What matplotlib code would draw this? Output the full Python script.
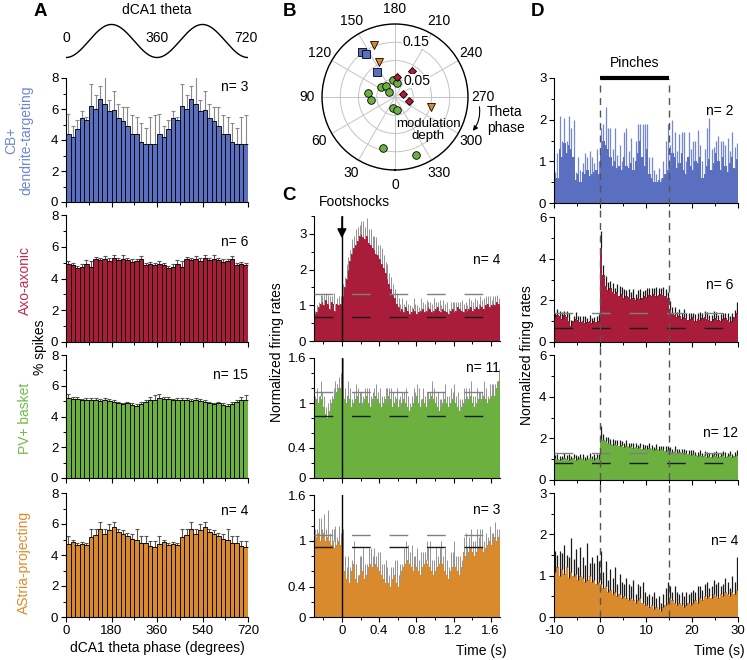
import numpy as np
import matplotlib
matplotlib.use("Agg")
import matplotlib.pyplot as plt
from matplotlib.lines import Line2D
from matplotlib.transforms import blended_transform_factory
from matplotlib.ticker import MultipleLocator

plt.rcParams['font.family'] = ['Liberation Sans', 'DejaVu Sans']
plt.rcParams['font.size'] = 9.5
plt.rcParams['axes.unicode_minus'] = False

# ============================================================
# Data
# ============================================================

# A: % spikes per 18 degree theta bin (one cycle, drawn twice)
a_blue_mean = [4.4, 4.2, 4.7, 5.4, 5.3, 6.2, 6.0, 6.65, 6.35, 5.9, 5.95, 5.45, 5.2, 4.9, 4.4, 4.4, 3.85, 3.75, 3.75, 3.75]
a_blue_err = [1.3, 0.7, 0.6, 0.5, 0.2, 1.4, 0.9, 0.85, 1.85, 0.7, 1.2, 0.9, 0.9, 1.2, 1.2, 1.1, 1.25, 1.0, 1.75, 1.85]
a_red_mean = [4.9, 4.85, 4.65, 4.75, 4.9, 4.7, 5.2, 5.15, 5.25, 5.1, 5.3, 5.15, 5.25, 5.15, 5.05, 5.1, 5.2, 4.85, 4.9, 4.85]
a_red_err = [0.2, 0.15, 0.15, 0.15, 0.25, 0.4, 0.15, 0.15, 0.15, 0.2, 0.2, 0.15, 0.2, 0.15, 0.15, 0.15, 0.2, 0.15, 0.15, 0.15]
a_green_mean = [5.2, 5.15, 5.15, 5.05, 5.1, 5.05, 5.1, 5.0, 5.1, 5.0, 4.95, 4.85, 4.8, 4.85, 4.75, 4.7, 4.8, 4.95, 5.1, 5.1]
a_green_err = [0.25, 0.15, 0.15, 0.12, 0.1, 0.15, 0.1, 0.15, 0.1, 0.15, 0.15, 0.1, 0.1, 0.1, 0.12, 0.1, 0.15, 0.15, 0.2, 0.3]
a_orange_mean = [4.7, 4.85, 4.65, 4.7, 4.65, 5.15, 5.3, 5.7, 5.35, 5.6, 5.8, 5.5, 5.35, 5.2, 5.05, 4.95, 4.8, 4.75, 4.55, 4.5]
a_orange_err = [0.55, 0.15, 0.1, 0.15, 0.15, 0.5, 0.4, 0.4, 0.3, 0.4, 0.3, 0.2, 0.25, 0.2, 0.3, 0.7, 0.45, 0.5, 0.35, 0.4]
a_n = ["n= 3", "n= 6", "n= 15", "n= 4"]

# B: theta phase (deg) and modulation depth per cell
b_blue_phase = [144, 145.5, 144.4]
b_blue_depth = [0.153, 0.142, 0.083]
b_orange_phase = [158, 155.2, 285.2]
b_orange_depth = [0.154, 0.105, 0.101]
b_red_phase = [212.4, 186.7, 252, 284.8]
b_red_depth = [0.085, 0.054, 0.024, 0.040]
b_green_phase = [97.6, 82.9, 124.7, 140.7, 133, 172.3, 186.8, 11.5, 352.5, 13, 340.1]
b_green_depth = [0.076, 0.066, 0.047, 0.039, 0.021, 0.047, 0.039, 0.032, 0.036, 0.142, 0.169]

# C: footshock PSTHs, 20 ms bins from -0.3 s
c_red_mean = [0.75, 0.8, 0.95, 1.05, 1.1, 1.0, 1.15, 1.05, 0.9, 1.1, 1.05, 0.85, 1.05, 1.0, 1.05,
              1.25, 1.5, 1.75, 2.0, 2.25, 2.45, 2.6, 2.7, 2.8, 2.95, 3.0, 2.9, 2.85, 2.95, 2.75,
              2.7, 2.6, 2.55, 2.45, 2.4, 2.3, 2.15, 2.05, 1.9, 1.75, 1.6, 1.45, 1.3, 1.2, 1.05,
              0.95, 0.85, 0.9, 0.8, 0.95,
              0.85, 0.75, 0.8, 0.9, 0.85, 0.75, 0.8, 0.85, 0.9, 0.8, 0.85, 0.95, 0.9, 0.8, 0.85,
              0.9, 0.95, 0.85, 0.8, 0.9, 0.85, 0.8, 0.75, 0.85, 0.9, 0.8, 0.85, 0.95, 0.9, 0.85,
              0.8, 0.9, 0.85, 0.9, 0.95, 0.85, 0.9, 0.95, 0.9, 1.0, 0.95, 0.9, 1.0, 1.05, 0.95,
              1.0, 1.05, 1.0, 1.1, 1.05]
c_red_err = [0.1, 0.2, 0.15, 0.25, 0.2, 0.3, 0.2, 0.25, 0.35, 0.15, 0.3, 0.2, 0.15, 0.25, 0.2,
             0.35, 0.3, 0.4, 0.35, 0.3, 0.4, 0.35, 0.45, 0.4, 0.3, 0.35, 0.45, 0.35, 0.5, 0.4,
             0.45, 0.35, 0.4, 0.45, 0.3, 0.4, 0.45, 0.35, 0.3, 0.4, 0.3, 0.35, 0.3, 0.25, 0.3,
             0.25, 0.2, 0.3, 0.25, 0.2,
             0.2, 0.25, 0.15, 0.3, 0.2, 0.25, 0.15, 0.35, 0.2, 0.25, 0.3, 0.15, 0.2, 0.25, 0.35,
             0.2, 0.15, 0.3, 0.2, 0.25, 0.2, 0.3, 0.15, 0.25, 0.2, 0.3, 0.25, 0.15, 0.2, 0.3,
             0.25, 0.2, 0.15, 0.3, 0.2, 0.25, 0.3, 0.2, 0.15, 0.25, 0.2, 0.3, 0.25, 0.2, 0.3,
             0.15, 0.2, 0.25, 0.2, 0.15]
c_green_mean = [1.0, 1.05, 1.0, 1.1, 1.05, 0.95, 0.85, 0.8, 0.9, 1.0, 1.05, 1.1, 1.15, 1.2, 1.2,
                1.15, 1.05, 1.0, 1.1, 1.05, 0.95, 1.0, 1.05, 1.1, 1.0, 0.95, 1.0, 1.05, 1.1, 1.0,
                0.95, 1.05, 1.0, 1.1, 1.05, 1.0, 0.95, 1.0, 1.05, 1.0, 1.1, 1.05, 0.95, 1.0, 1.05,
                0.95, 0.9, 1.0, 1.05, 1.0, 0.95, 0.9, 0.95, 1.0, 1.05, 1.1, 1.0, 0.95, 1.05, 1.0,
                0.95, 1.0, 1.05, 1.1, 1.05, 1.0, 0.95, 0.9, 0.95, 1.0, 1.05, 1.0, 0.95, 1.0, 1.05,
                1.1, 1.0, 0.95, 0.9, 0.95, 1.0, 1.05, 1.0, 1.05, 1.1, 1.0, 0.95, 1.0, 1.05, 1.0,
                1.05, 1.1, 1.05, 1.0, 1.05, 1.1, 1.15, 1.1, 1.2, 1.3]
c_green_err = [0.1, 0.15, 0.1, 0.2, 0.1, 0.15, 0.1, 0.2, 0.15, 0.1, 0.15, 0.2, 0.1, 0.15, 0.2,
               0.45, 0.15, 0.1, 0.2, 0.15, 0.1, 0.15, 0.2, 0.1, 0.15, 0.2, 0.1, 0.15, 0.1, 0.2,
               0.15, 0.1, 0.2, 0.15, 0.1, 0.2, 0.15, 0.1, 0.15, 0.2, 0.1, 0.15, 0.2, 0.1, 0.15,
               0.1, 0.2, 0.15, 0.1, 0.2, 0.15, 0.1, 0.15, 0.2, 0.1, 0.15, 0.2, 0.1, 0.15, 0.1,
               0.2, 0.15, 0.1, 0.2, 0.15, 0.1, 0.2, 0.15, 0.1, 0.15, 0.2, 0.1, 0.15, 0.2, 0.1,
               0.15, 0.1, 0.2, 0.15, 0.1, 0.2, 0.15, 0.1, 0.15, 0.2, 0.1, 0.15, 0.2, 0.1, 0.15,
               0.1, 0.2, 0.15, 0.1, 0.2, 0.15, 0.1, 0.15, 0.1, 0.15]
c_orange_mean = [1.0, 1.05, 1.1, 1.0, 1.05, 1.1, 1.0, 1.05, 1.0, 0.95, 1.0, 0.9, 0.95, 1.0, 0.95,
                 0.85, 0.6, 0.5, 0.55, 0.45,
                 0.6, 0.7, 0.5, 0.45, 0.55, 0.65, 0.6, 0.5, 0.55, 0.65,
                 0.7, 0.65, 0.6, 0.7, 0.65, 0.6, 0.55, 0.5, 0.45, 0.5,
                 0.45, 0.4, 0.5, 0.55, 0.45, 0.4, 0.5, 0.6, 0.65, 0.7,
                 0.75, 0.7, 0.65, 0.6, 0.7, 0.65, 0.6, 0.55, 0.65, 0.7, 0.75, 0.7, 0.65, 0.6, 0.55,
                 0.6, 0.65, 0.7, 0.75, 0.7, 0.6, 0.55, 0.5, 0.6, 0.65, 0.7, 0.65, 0.6, 0.55, 0.65,
                 0.85, 0.8, 0.75, 0.85, 0.9, 0.85, 0.8, 0.85, 0.9, 0.95,
                 0.9, 0.85, 0.9, 0.95, 1.0, 0.95, 1.0, 1.05, 1.0, 1.05]
c_orange_err = [0.15, 0.1, 0.2, 0.3, 0.1, 0.25, 0.15, 0.35, 0.1, 0.2, 0.15, 0.3, 0.1, 0.2, 0.15,
                0.3, 0.2, 0.15, 0.25, 0.2,
                0.15, 0.3, 0.2, 0.1, 0.25, 0.15, 0.3, 0.2, 0.15, 0.25,
                0.2, 0.15, 0.3, 0.1, 0.2, 0.25, 0.15, 0.2, 0.3, 0.15,
                0.1, 0.25, 0.15, 0.2, 0.3, 0.15, 0.2, 0.1, 0.25, 0.3,
                0.2, 0.15, 0.3, 0.2, 0.1, 0.25, 0.15, 0.3, 0.2, 0.15, 0.25, 0.2, 0.35, 0.15, 0.2,
                0.3, 0.15, 0.2, 0.25, 0.1, 0.3, 0.2, 0.15, 0.25, 0.2, 0.3, 0.15, 0.2, 0.25, 0.1,
                0.2, 0.3, 0.15, 0.2, 0.25, 0.15, 0.2, 0.3, 0.15, 0.2,
                0.25, 0.15, 0.2, 0.1, 0.2, 0.15, 0.1, 0.2, 0.15, 0.1]
c_upper = [1.33, 1.15, 1.08]
c_lower = [0.68, 0.83, 0.92]
c_n = ["n= 4", "n= 11", "n= 3"]

# D: pinch PSTHs, 0.5 s bins from -10 s
d_blue_mean = [0.65, 0.6, 1.3, 1.1, 1.45, 1.2, 1.4, 1.3, 1.1, 0.55, 0.7, 0.5,
               0.75, 0.7, 0.8, 0.65, 0.7, 0.75, 0.8, 0.7,
               1.2, 1.5, 1.4, 1.3, 1.1, 0.9,
               1.0, 0.85, 0.9, 0.8, 1.1, 0.9, 0.85, 0.95, 0.8, 1.0,
               1.2, 1.5, 1.1, 0.9, 1.3, 0.7, 0.6, 0.5,
               0.5, 0.55, 0.5, 0.6, 0.7, 0.8,
               0.9, 1.2, 1.1, 0.85, 0.95, 1.2, 0.8, 0.7, 1.1, 0.9, 0.8, 1.0, 0.95, 1.1, 0.6,
               0.7, 0.9, 1.05, 0.8, 0.95, 1.2, 1.0, 0.8, 1.1, 0.9, 0.75, 0.95, 1.1, 0.85, 1.05]
d_blue_err = [0.1, 0.6, 0.8, 0.4, 0.6, 0.3, 0.7, 0.5, 0.9, 0.2, 0.4, 0.3,
              0.2, 0.5, 0.3, 0.6, 0.4, 0.2, 0.5, 0.3,
              0.6, 0.4, 0.9, 0.5, 0.7, 0.4,
              0.8, 0.3, 0.5, 0.2, 0.6, 0.9, 0.4, 0.6, 0.3, 0.5,
              0.7, 0.4, 0.8, 1.0, 0.6, 0.4, 0.5, 0.3,
              0.2, 0.3, 0.1, 0.4, 0.8, 1.1,
              0.5, 0.8, 0.6, 0.4, 0.7, 0.5, 0.9, 0.3, 0.6, 0.4, 0.7, 0.5, 0.8, 0.3, 0.4,
              0.6, 0.9, 1.0, 0.5, 0.4, 0.3, 0.6, 0.7, 0.4, 0.5, 0.8, 0.3, 0.6, 0.5, 0.4]
d_red_mean = [1.2, 1.3, 1.25, 1.1, 1.3, 1.2, 1.0, 0.75, 1.0, 1.1, 1.05, 0.95, 1.0, 0.9, 0.95,
              1.0, 0.9, 1.0, 0.95, 1.0,
              4.5, 3.2, 2.7, 2.5,
              2.6, 2.4, 2.3, 2.4, 2.2, 2.3, 2.1, 2.2, 2.15, 2.05, 2.1, 2.0, 2.1, 2.05, 2.1,
              2.2, 2.15, 2.25, 2.2, 2.3, 2.2, 2.25, 2.3, 2.25, 2.2, 2.1,
              1.6, 1.4, 1.3, 1.2, 1.25, 1.1, 1.2, 1.15, 1.05, 1.1, 1.2, 1.0, 1.1, 1.05, 1.15,
              1.2, 1.1, 1.05, 1.0, 1.1, 1.15, 1.05, 1.0, 1.1, 1.15, 1.05, 0.95, 1.0, 1.2, 1.4]
d_red_err = [0.2, 0.3, 0.25, 0.35, 0.2, 0.3, 0.4, 0.3, 0.25, 0.35, 0.2, 0.3, 0.25, 0.35, 0.2,
             0.3, 0.25, 0.2, 0.3, 0.35,
             0.85, 0.5, 0.45, 0.4,
             0.35, 0.45, 0.3, 0.4, 0.5, 0.35, 0.45, 0.3, 0.4, 0.35, 0.45, 0.3, 0.4, 0.5, 0.35,
             0.3, 0.45, 0.35, 0.4, 0.3, 0.45, 0.35, 0.3, 0.4, 0.35, 0.3,
             0.35, 0.3, 0.4, 0.25, 0.35, 0.3, 0.4, 0.25, 0.35, 0.3, 0.2, 0.35, 0.3, 0.4, 0.25,
             0.3, 0.35, 0.25, 0.3, 0.4, 0.3, 0.25, 0.35, 0.3, 0.25, 0.35, 0.3, 0.4, 0.35, 0.5]
d_green_mean = [1.05, 1.0, 0.95, 1.0, 1.05, 1.0, 0.95, 1.0, 1.05, 0.95, 1.0, 1.05, 1.0, 0.95, 1.0,
                1.05, 1.0, 0.95, 1.05, 1.0,
                1.95, 1.9, 1.85, 1.8,
                1.75, 1.7, 1.75, 1.7, 1.65, 1.7, 1.6, 1.65, 1.6, 1.65, 1.55, 1.6, 1.55, 1.6, 1.5,
                1.55, 1.5, 1.55, 1.5, 1.45, 1.5, 1.45, 1.5, 1.45, 1.4, 1.45,
                1.4, 1.35, 1.4, 1.3, 1.35, 1.3, 1.25, 1.3, 1.25, 1.2, 1.25, 1.2, 1.15, 1.2, 1.15,
                1.2, 1.1, 1.15, 1.1, 1.2, 1.15, 1.1, 1.15, 1.2, 1.1, 1.15, 1.2, 1.1, 1.15, 1.2]
d_green_err = [0.15, 0.25, 0.2, 0.15, 0.25, 0.2, 0.3, 0.15, 0.2, 0.25, 0.15, 0.2, 0.25, 0.15, 0.2,
               0.25, 0.15, 0.3, 0.2, 0.25,
               0.65, 0.3, 0.2, 0.25,
               0.2, 0.25, 0.15, 0.2, 0.25, 0.15, 0.2, 0.25, 0.2, 0.15, 0.25, 0.2, 0.15, 0.2, 0.25,
               0.15, 0.2, 0.25, 0.2, 0.15, 0.25, 0.2, 0.15, 0.2, 0.25, 0.2,
               0.2, 0.15, 0.25, 0.2, 0.15, 0.2, 0.25, 0.15, 0.2, 0.25, 0.2, 0.15, 0.2, 0.25, 0.15,
               0.2, 0.25, 0.15, 0.2, 0.15, 0.25, 0.2, 0.15, 0.2, 0.25, 0.15, 0.2, 0.15, 0.2, 0.25]
d_orange_mean = [1.1, 1.2, 1.0, 1.15, 1.05, 1.2, 0.95, 1.1, 1.0, 1.05, 0.9, 1.0, 0.95, 0.85, 0.9,
                 1.0, 0.85, 0.9, 0.8, 0.85,
                 0.8, 0.7, 0.75, 0.6, 0.65, 0.55, 0.6, 0.5, 0.55, 0.45,
                 0.5, 0.45, 0.4, 0.45, 0.4, 0.35, 0.4, 0.45, 0.35, 0.3,
                 0.3, 0.25, 0.3, 0.2, 0.25, 0.2, 0.15, 0.25, 0.3, 0.35,
                 0.45, 0.4, 0.35, 0.3, 0.35, 0.3, 0.25, 0.3, 0.35, 0.3,
                 0.35, 0.4, 0.35, 0.45, 0.4, 0.5, 0.45, 0.5, 0.45, 0.55,
                 0.5, 0.45, 0.55, 0.5, 0.6, 0.55, 0.5, 0.6, 0.55, 0.65]
d_orange_err = [0.5, 0.3, 0.6, 0.4, 0.7, 0.3, 0.5, 0.8, 0.4, 0.6, 0.3, 0.7, 0.5, 0.4, 0.9,
                0.3, 0.6, 0.4, 0.7, 0.5,
                0.8, 0.4, 0.6, 0.3, 0.5, 0.4, 0.6, 0.3, 0.5, 0.4,
                0.3, 0.5, 0.4, 0.3, 0.5, 0.2, 0.4, 0.3, 0.5, 0.3,
                0.2, 0.3, 0.2, 0.4, 0.2, 0.3, 0.2, 0.3, 0.4, 0.5,
                0.3, 0.2, 0.4, 0.3, 0.2, 0.3, 0.25, 0.3, 0.2, 0.3,
                0.3, 0.2, 0.4, 0.3, 0.25, 0.3, 0.4, 0.2, 0.3, 0.35,
                0.3, 0.4, 0.2, 0.3, 0.35, 0.3, 0.2, 0.4, 0.3, 0.8]
d_upper = [None, 1.39, 1.28, None]
d_lower = [None, 0.67, 0.8, None]
d_ylim = [3, 6, 6, 3]
d_n = ["n= 2", "n= 6", "n= 12", "n= 4"]

BLUE, RED, GREEN, ORANGE = "#5B6FC1", "#A91D3B", "#6CB03F", "#D98A2D"
BLUE_T, RED_T, GREEN_T, ORANGE_T = "#6E86D6", "#C52B4C", "#6FBE45", "#E08B2A"

# ============================================================
# Layout helpers (reference pixels)
# ============================================================

W, H = 747, 660


def box(x0, y0, x1, y1):
    return [x0 / W, 1 - y1 / H, (x1 - x0) / W, (y1 - y0) / H]


def fpt(x, y):
    return x / W, 1 - y / H


def style(ax):
    for s in ("top", "right"):
        ax.spines[s].set_visible(False)
    for s in ("left", "bottom"):
        ax.spines[s].set_linewidth(0.8)
    ax.tick_params(which="major", direction="out", length=3.5, width=0.8, pad=2, labelsize=9.5)
    ax.tick_params(which="minor", direction="out", length=2, width=0.7)


fig = plt.figure(figsize=(W / 100, H / 100), dpi=100)

# ============================================================
# A: theta phase histograms
# ============================================================

ax_sin = fig.add_axes(box(66, 20, 248, 62))
ph = np.linspace(0, 720, 400)
ax_sin.plot(ph, -np.cos(np.deg2rad(ph)), color="k", lw=1)
ax_sin.set_xlim(0, 720)
ax_sin.set_ylim(-1.27, 1.27)
ax_sin.axis("off")
for lab, xv in (("0", 0), ("360", 360), ("720", 710)):
    ax_sin.text(xv, 0.2, lab, ha="center", va="center", fontsize=10)
fig.text(*fpt(157, 10), "dCA1 theta", ha="center", va="center", fontsize=10)

a_rows = [
    (a_blue_mean, a_blue_err, BLUE, "#8a8a8a", 78, 202),
    (a_red_mean, a_red_err, RED, "#555555", 215, 342),
    (a_green_mean, a_green_err, GREEN, "#555555", 355, 478),
    (a_orange_mean, a_orange_err, ORANGE, "#555555", 493, 617),
]
a_axes = []
for i, (m, e, col, ecol, top, bot) in enumerate(a_rows):
    ax = fig.add_axes(box(66, top, 248, bot))
    m2 = np.tile(m, 2)
    e2 = np.tile(e, 2)
    centers = 9 + 18 * np.arange(len(m2))
    ax.errorbar(centers, m2, yerr=[np.zeros_like(e2), e2], fmt="none", ecolor=ecol,
                elinewidth=0.8, capsize=1.5, capthick=0.8, zorder=1)
    ax.bar(centers, m2, width=18, color=col, edgecolor="k", lw=0.6, zorder=2)
    ax.set_xlim(0, 720)
    ax.set_ylim(0, 8)
    ax.set_xticks([0, 180, 360, 540, 720])
    ax.xaxis.set_minor_locator(MultipleLocator(90))
    ax.set_yticks([0, 2, 4, 6, 8])
    ax.yaxis.set_minor_locator(MultipleLocator(1))
    style(ax)
    if i < 3:
        ax.set_xticklabels([])
    a_axes.append(ax)

a_axes[-1].set_xlabel("dCA1 theta phase (degrees)", fontsize=10, labelpad=3)
for txt, y in zip(a_n, (87, 242, 375, 511)):
    fig.text(*fpt(248, y), txt, ha="right", va="center", fontsize=10)

fig.text(*fpt(19, 140), "CB+\ndendrite-targeting", rotation=90, ha="center", va="center",
         color=BLUE_T, fontsize=10, linespacing=1.05)
fig.text(*fpt(25, 280), "Axo-axonic", rotation=90, ha="center", va="center", color=RED_T, fontsize=10)
fig.text(*fpt(40, 347), "% spikes", rotation=90, ha="center", va="center", fontsize=10)
fig.text(*fpt(25, 418), "PV+ basket", rotation=90, ha="center", va="center", color=GREEN_T, fontsize=10)
fig.text(*fpt(24, 562), "AStria-projecting", rotation=90, ha="center", va="center", color=ORANGE_T, fontsize=10)

# ============================================================
# B: polar plot of preferred phase vs modulation depth
# ============================================================

axp = fig.add_axes(box(322, 24, 468, 170), projection="polar")
axp.set_theta_zero_location("S")
axp.set_theta_direction(-1)
axp.set_ylim(0, 0.2)
axp.set_rticks([0.05, 0.1, 0.15, 0.2])
axp.set_yticklabels([])
axp.set_thetagrids(np.arange(0, 360, 30), labels=[str(a) for a in range(0, 360, 30)], fontsize=10)
axp.grid(color="#c4c4c4", lw=0.7)
axp.spines["polar"].set_linewidth(1.0)
axp.tick_params(axis="x", pad=0)
for ph_, dp, mk, col, ms in (
    (b_green_phase, b_green_depth, "o", GREEN, 5.5),
    (b_red_phase, b_red_depth, "D", RED, 4.5),
    (b_orange_phase, b_orange_depth, "v", ORANGE, 6),
    (b_blue_phase, b_blue_depth, "s", BLUE, 5.5),
):
    axp.plot(np.deg2rad(ph_), dp, ls="none", marker=mk, ms=ms, mfc=col, mec="k", mew=0.6, clip_on=False)
axp.text(np.deg2rad(206.6), 0.049, "0.05", ha="left", va="center", fontsize=10,
         bbox=dict(fc="white", ec="none", pad=0.2))
axp.text(np.deg2rad(187.3), 0.152, "0.15", ha="left", va="center", fontsize=10,
         bbox=dict(fc="white", ec="none", pad=0.2))
fig.text(*fpt(428, 130), "modulation\ndepth", ha="center", va="center", fontsize=9.5, linespacing=1.0)
fig.text(*fpt(487, 120), "Theta\nphase", ha="left", va="center", fontsize=10, linespacing=1.1)
fig.add_artist(matplotlib.patches.FancyArrowPatch(
    fpt(479, 104), fpt(471, 133), transform=fig.transFigure, connectionstyle="arc3,rad=-0.25",
    arrowstyle="-|>", mutation_scale=7, lw=0.8, color="k"))

# ============================================================
# C: footshock PSTHs
# ============================================================

c_rows = [
    (c_red_mean, c_red_err, RED, 216, 341, 3.5, [0, 1, 2, 3], 0.5),
    (c_green_mean, c_green_err, GREEN, 358, 478, 1.6, [0, 0.4, 1, 1.6], 0.2),
    (c_orange_mean, c_orange_err, ORANGE, 495, 617, 1.6, [0, 0.4, 1, 1.6], 0.2),
]
c_axes = []
for i, (m, e, col, top, bot, ymax, yt, ymin_step) in enumerate(c_rows):
    ax = fig.add_axes(box(314, top, 500, bot))
    m = np.asarray(m)
    e = np.asarray(e[:len(m)])
    edges = -0.3 + 0.02 * np.arange(len(m) + 1)
    ax.stairs(m, edges, fill=True, color=col, lw=0, zorder=1)
    ctr = edges[:-1] + 0.01
    ax.vlines(ctr[:len(e)], m[:len(e)], m[:len(e)] + e, color="#8c8c8c", lw=0.65, zorder=2)
    ax.axhline(c_upper[i], color="#808080", lw=1, dashes=(13.5, 13.5), zorder=3)
    ax.axhline(c_lower[i], color="#1a1a1a", lw=1, dashes=(13.5, 13.5), zorder=3)
    ax.axvline(0, color="k", lw=1, zorder=4)
    ax.set_xlim(-0.3, 1.7)
    ax.set_ylim(0, ymax)
    ax.set_yticks(yt)
    ax.set_yticklabels(["0" if v == 0 else f"{v:g}" for v in yt])
    ax.yaxis.set_minor_locator(MultipleLocator(ymin_step))
    ax.set_xticks([0, 0.4, 0.8, 1.2, 1.6])
    ax.xaxis.set_minor_locator(MultipleLocator(0.2))
    style(ax)
    if i < 2:
        ax.set_xticklabels([])
    else:
        ax.set_xticklabels(["0", "0.4", "0.8", "1.2", "1.6"])
    c_axes.append(ax)

c_axes[0].annotate("", xy=(0, 2.8), xytext=(0, 3.55),
                   arrowprops=dict(arrowstyle="-|>", color="k", lw=1, mutation_scale=14),
                   annotation_clip=False)
fig.text(*fpt(354, 202), "Footshocks", ha="center", va="center", fontsize=10)
for txt, y in zip(c_n, (260, 368, 510)):
    fig.text(*fpt(500, y), txt, ha="right", va="center", fontsize=10)
fig.text(*fpt(277, 352), "Normalized firing rates", rotation=90, ha="center", va="center", fontsize=10)
fig.text(*fpt(507, 651), "Time (s)", ha="right", va="center", fontsize=10)

# ============================================================
# D: pinch PSTHs
# ============================================================

d_rows = [
    (d_blue_mean, d_blue_err, BLUE, "#7387D2", 78, 203),
    (d_red_mean, d_red_err, RED, "#1a1a1a", 217, 342),
    (d_green_mean, d_green_err, GREEN, "#1a1a1a", 355, 480),
    (d_orange_mean, d_orange_err, ORANGE, "#1a1a1a", 493, 617),
]
d_axes = []
for i, (m, e, col, ecol, top, bot) in enumerate(d_rows):
    ax = fig.add_axes(box(554, top, 738, bot))
    m = np.asarray(m)
    e = np.asarray(e[:len(m)])
    edges = -10 + 0.5 * np.arange(len(m) + 1)
    ax.stairs(m, edges, fill=True, color=col, lw=0, zorder=1)
    ctr = edges[:-1] + 0.25
    ax.vlines(ctr[:len(e)], m[:len(e)], m[:len(e)] + e, color=ecol, lw=0.9, zorder=2)
    if d_upper[i] is not None:
        ax.axhline(d_upper[i], color="#808080", lw=1, dashes=(13.5, 13.5), zorder=3)
        ax.axhline(d_lower[i], color="#1a1a1a", lw=1, dashes=(13.5, 13.5), zorder=3)
    ax.set_xlim(-10, 30)
    ax.set_ylim(0, d_ylim[i])
    ax.set_xticks([-10, 0, 10, 20, 30])
    ax.xaxis.set_minor_locator(MultipleLocator(5))
    if d_ylim[i] == 3:
        ax.set_yticks([0, 1, 2, 3])
        ax.yaxis.set_minor_locator(MultipleLocator(0.5))
    else:
        ax.set_yticks([0, 2, 4, 6])
        ax.yaxis.set_minor_locator(MultipleLocator(1))
    style(ax)
    if i < 3:
        ax.set_xticklabels([])
    d_axes.append(ax)

# dashed pinch onset / offset lines through the whole column
for tv in (0, 15):
    tr = blended_transform_factory(d_axes[0].transData, fig.transFigure)
    fig.add_artist(Line2D([tv, tv], [1 - 617 / H, 1 - 79 / H], transform=tr,
                          color="#555555", lw=1, dashes=(5, 4), zorder=5))
d_axes[0].plot([0, 15], [3.0, 3.0], color="k", lw=3, solid_capstyle="butt", clip_on=False, zorder=6)
fig.text(*fpt(635, 63), "Pinches", ha="center", va="center", fontsize=10)
for txt, x, y in zip(d_n, (733, 733, 738, 738), (111, 285, 433, 541)):
    fig.text(*fpt(x, y), txt, ha="right", va="center", fontsize=10)
fig.text(*fpt(527, 355), "Normalized firing rates", rotation=90, ha="center", va="center", fontsize=10)
fig.text(*fpt(745, 651), "Time (s)", ha="right", va="center", fontsize=10)

# panel letters
for lab, x, y in (("A", 40, 12), ("B", 289, 12), ("C", 289, 195), ("D", 537, 11)):
    fig.text(*fpt(x, y), lab, ha="center", va="center", fontsize=13.5, fontweight="bold")

fig.savefig("out.png", dpi=100)
